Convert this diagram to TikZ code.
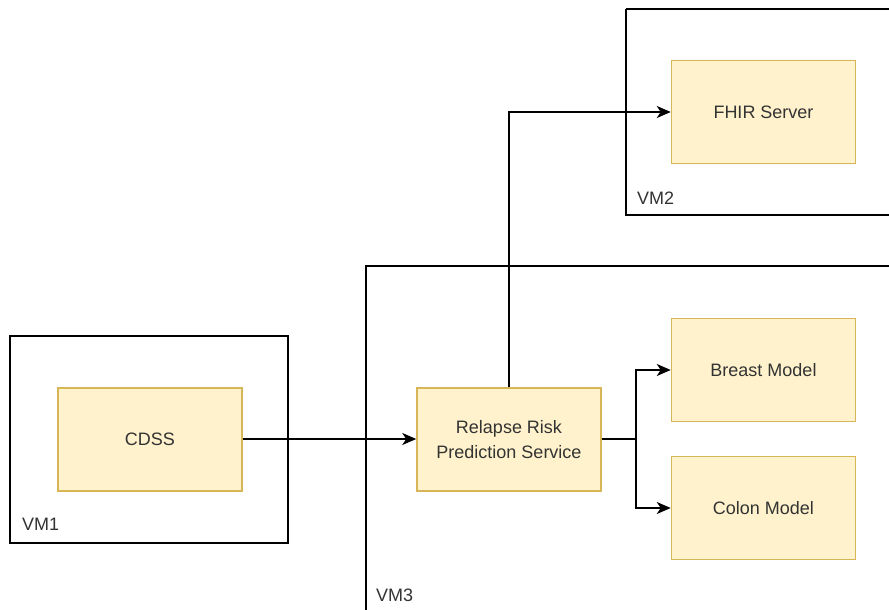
\documentclass[tikz,border=0pt]{standalone}
\usepackage{fontspec}
\setmainfont{Liberation Sans}
\usetikzlibrary{arrows.meta}
\definecolor{boxfill}{HTML}{FFF2CC}
\definecolor{boxdraw}{HTML}{D6B656}
\definecolor{txt}{HTML}{333333}
\tikzset{
  comp/.style={draw=boxdraw,fill=boxfill,line width=1.5pt,minimum width=184pt,minimum height=103pt,inner sep=0pt,font=\fontsize{18}{25}\selectfont,text=txt,align=center},
  vm/.style={draw=black,line width=1.5pt},
  vmlabel/.style={anchor=base west,font=\fontsize{18}{22}\selectfont,text=txt,inner sep=0pt},
  linkline/.style={draw=black,line width=2pt},
  conn/.style={linkline,-{Triangle[length=14pt,width=12pt,inset=4pt]}}
}
\begin{document}
\begin{tikzpicture}[x=1pt,y=-1pt]
\useasboundingbox (0,0) rectangle (889,610);
\fill[white] (0,0) rectangle (889,610);
\begin{scope}
\clip (0,0) rectangle (889,610);
% VM containers
\draw[vm] (626,9) -- (900,9) (626,9) -- (626,215) -- (900,215);
\draw[vm] (366,620) -- (366,266) -- (900,266);
\draw[vm] (10,336) rectangle (288,543);
\end{scope}
\node[vmlabel] (vm1) at (22,530) {VM1};
\node[vmlabel] (vm2) at (637,204) {VM2};
\node[vmlabel] (vm3) at (376,601) {VM3};
% components
\node[comp] (fhir) at (763.5,112) {FHIR Server};
\node[comp] (cdss) at (150,439.5) {CDSS};
\node[comp] (rrps) at (509,439.5) {Relapse Risk\\Prediction Service};
\node[comp] (breast) at (763.5,370) {Breast Model};
\node[comp] (colon) at (763.5,508) {Colon Model};
% connectors
\coordinate (branch) at (636,439);
\draw[conn] (cdss.east |- branch) -- (rrps.west |- branch);
\draw[conn] (rrps.north) |- (fhir.west);
\draw[linkline] (rrps.east |- branch) -- (branch);
\draw[conn] (branch) |- (breast.west);
\draw[conn] (branch) |- (colon.west);
\end{tikzpicture}
\end{document}
